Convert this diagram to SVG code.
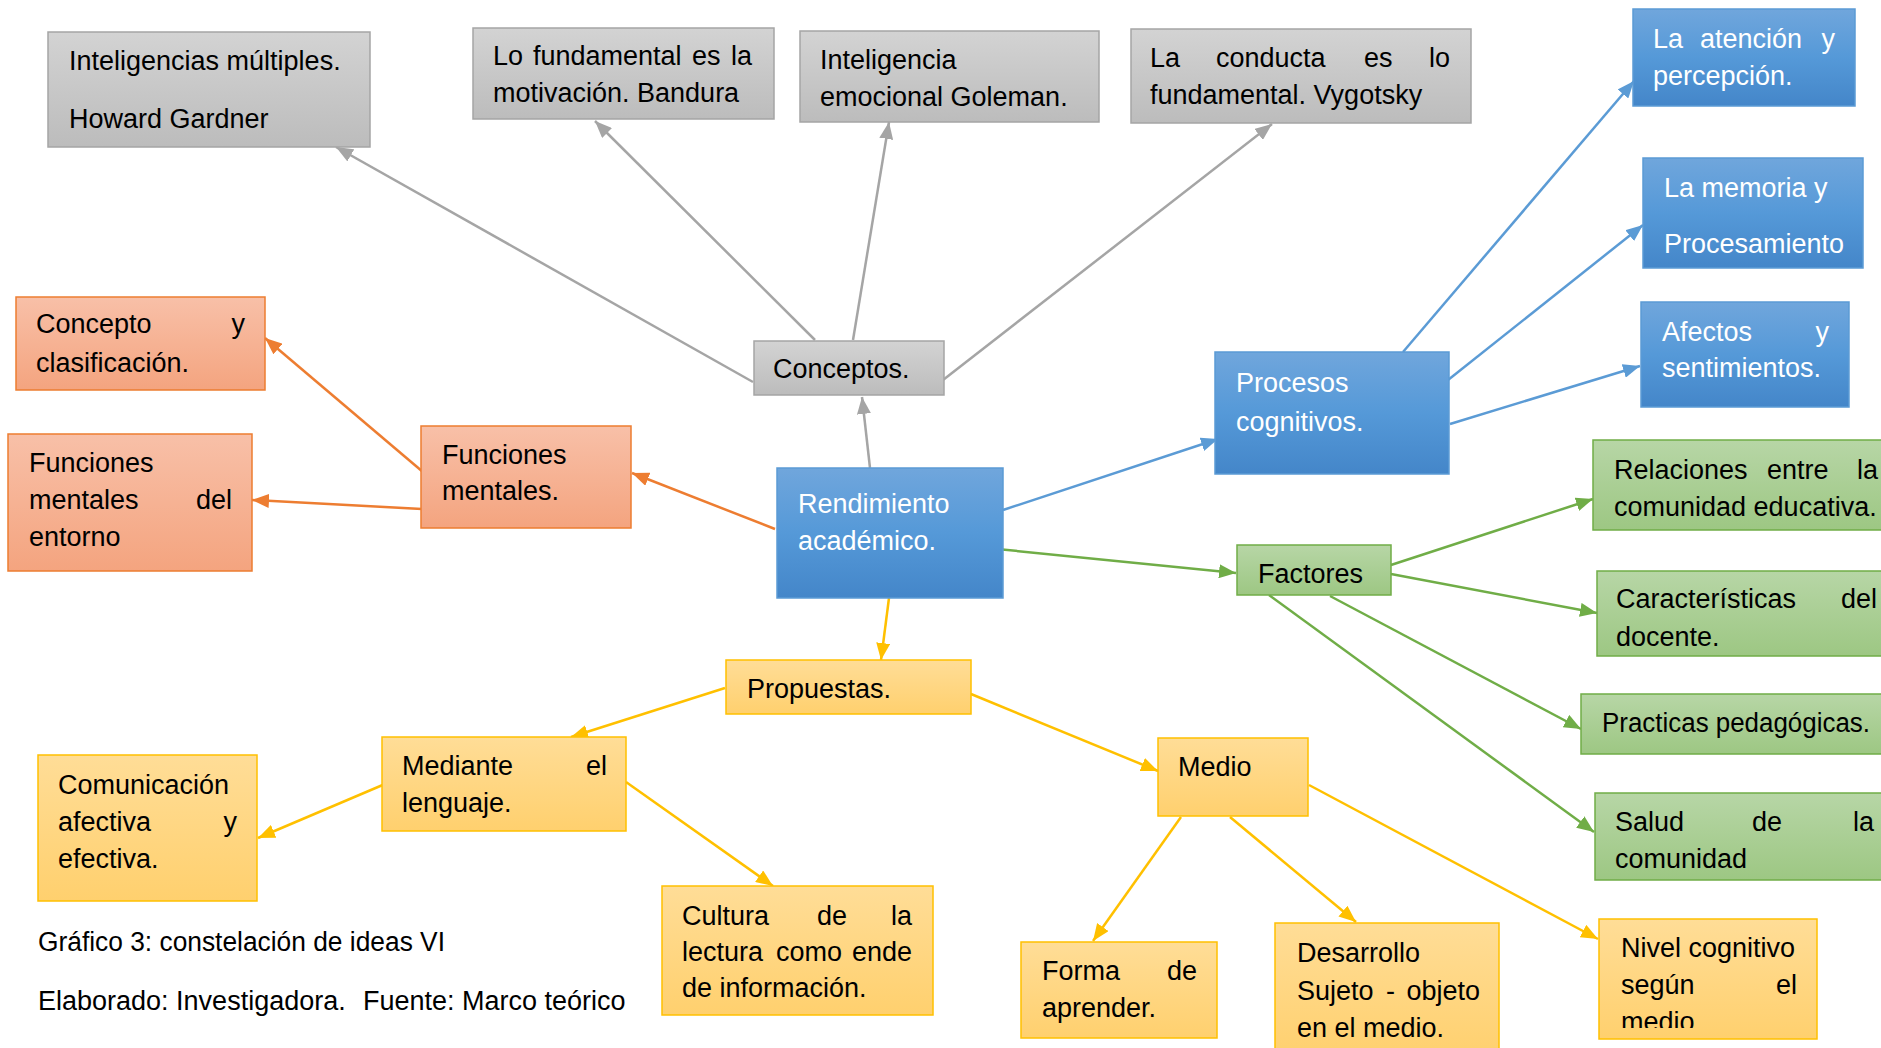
<svg xmlns="http://www.w3.org/2000/svg" width="1881" height="1048" viewBox="0 0 1881 1048">
<style>
text{font-family:"Liberation Sans",Arial,sans-serif;font-size:27px;fill:#000}
.w{fill:#fff}
.e{text-anchor:end}
.gray{fill:url(#gGray);stroke:#a5a5a5;stroke-width:1.5}
.blue{fill:url(#gBlue);stroke:#5b9bd5;stroke-width:1.5}
.orange{fill:url(#gOrange);stroke:#ed7d31;stroke-width:1.5}
.green{fill:url(#gGreen);stroke:#70ad47;stroke-width:1.5}
.yellow{fill:url(#gYellow);stroke:#ffc000;stroke-width:1.5}
.cg{stroke:#a5a5a5;stroke-width:2.5;fill:none;marker-end:url(#aGray)}
.cb{stroke:#5b9bd5;stroke-width:2.5;fill:none;marker-end:url(#aBlue)}
.co{stroke:#ed7d31;stroke-width:2.5;fill:none;marker-end:url(#aOrange)}
.cn{stroke:#70ad47;stroke-width:2.5;fill:none;marker-end:url(#aGreen)}
.cy{stroke:#ffc000;stroke-width:2.5;fill:none;marker-end:url(#aYellow)}
</style>
<defs>
<linearGradient id="gGray" x1="0" y1="0" x2="0" y2="1"><stop offset="0" stop-color="#d3d3d3"/><stop offset="1" stop-color="#bcbcbc"/></linearGradient>
<linearGradient id="gBlue" x1="0" y1="0" x2="0" y2="1"><stop offset="0" stop-color="#70a6dc"/><stop offset="0.5" stop-color="#5599d8"/><stop offset="1" stop-color="#4486c9"/></linearGradient>
<linearGradient id="gOrange" x1="0" y1="0" x2="0" y2="1"><stop offset="0" stop-color="#f8c0a8"/><stop offset="1" stop-color="#f4a47f"/></linearGradient>
<linearGradient id="gGreen" x1="0" y1="0" x2="0" y2="1"><stop offset="0" stop-color="#b7d6a6"/><stop offset="1" stop-color="#9dc783"/></linearGradient>
<linearGradient id="gYellow" x1="0" y1="0" x2="0" y2="1"><stop offset="0" stop-color="#ffdd97"/><stop offset="1" stop-color="#ffd06e"/></linearGradient>
<marker id="aGray" markerUnits="userSpaceOnUse" markerWidth="17" markerHeight="14" refX="17" refY="7" orient="auto"><path d="M0,0 L17,7 L0,14 z" fill="#a5a5a5"/></marker>
<marker id="aBlue" markerUnits="userSpaceOnUse" markerWidth="17" markerHeight="14" refX="17" refY="7" orient="auto"><path d="M0,0 L17,7 L0,14 z" fill="#5b9bd5"/></marker>
<marker id="aOrange" markerUnits="userSpaceOnUse" markerWidth="17" markerHeight="14" refX="17" refY="7" orient="auto"><path d="M0,0 L17,7 L0,14 z" fill="#ed7d31"/></marker>
<marker id="aGreen" markerUnits="userSpaceOnUse" markerWidth="17" markerHeight="14" refX="17" refY="7" orient="auto"><path d="M0,0 L17,7 L0,14 z" fill="#70ad47"/></marker>
<marker id="aYellow" markerUnits="userSpaceOnUse" markerWidth="17" markerHeight="14" refX="17" refY="7" orient="auto"><path d="M0,0 L17,7 L0,14 z" fill="#ffc000"/></marker>
<clipPath id="clipNivel"><rect x="1599" y="919" width="218" height="109"/></clipPath>
</defs>
<rect width="1881" height="1048" fill="#fff"/>

<g id="connectors">
<line class="cg" x1="753" y1="382" x2="336" y2="147"/>
<line class="cg" x1="815" y1="340" x2="595" y2="121"/>
<line class="cg" x1="853" y1="340" x2="889" y2="122"/>
<line class="cg" x1="943" y1="380" x2="1272" y2="124"/>
<line class="cg" x1="870" y1="468" x2="862" y2="397"/>
<line class="cb" x1="1403" y1="352" x2="1634" y2="81"/>
<line class="cb" x1="1448" y1="380" x2="1643" y2="225"/>
<line class="cb" x1="1450" y1="424" x2="1640" y2="366"/>
<line class="cb" x1="1003" y1="510" x2="1218" y2="439"/>
<line class="co" x1="775" y1="529" x2="632" y2="473"/>
<line class="co" x1="423" y1="472" x2="265" y2="338"/>
<line class="co" x1="422" y1="509" x2="252" y2="500"/>
<line class="cn" x1="997" y1="549" x2="1236" y2="573"/>
<line class="cn" x1="1391" y1="565" x2="1593" y2="499"/>
<line class="cn" x1="1391" y1="574" x2="1597" y2="613"/>
<line class="cn" x1="1330" y1="596" x2="1581" y2="729"/>
<line class="cn" x1="1269" y1="595" x2="1594" y2="832"/>
<line class="cy" x1="889" y1="598" x2="881" y2="660"/>
<line class="cy" x1="725" y1="688" x2="571" y2="737"/>
<line class="cy" x1="971" y1="694" x2="1158" y2="771"/>
<line class="cy" x1="385" y1="784" x2="258" y2="838"/>
<line class="cy" x1="626" y1="782" x2="773" y2="886"/>
<line class="cy" x1="1181" y1="817" x2="1093" y2="941"/>
<line class="cy" x1="1230" y1="817" x2="1356" y2="922"/>
<line class="cy" x1="1309" y1="785" x2="1598" y2="939"/>
</g>

<g id="n-gardner">
<rect class="gray" x="48" y="32" width="322" height="115"/>
<text x="69" y="70">Inteligencias múltiples.</text>
<text x="69" y="128">Howard Gardner</text>
</g>
<g id="n-bandura">
<rect class="gray" x="473" y="28" width="301" height="91"/>
<text x="493" y="65">Lo</text><text x="533" y="65">fundamental</text><text x="692" y="65">es</text><text class="e" x="752" y="65">la</text>
<text x="493" y="102">motivación. Bandura</text>
</g>
<g id="n-goleman">
<rect class="gray" x="800" y="31" width="299" height="91"/>
<text x="820" y="69">Inteligencia</text>
<text x="820" y="106">emocional Goleman.</text>
</g>
<g id="n-vygotsky">
<rect class="gray" x="1131" y="29" width="340" height="94"/>
<text x="1150" y="67">La</text><text x="1216" y="67">conducta</text><text x="1364" y="67">es</text><text class="e" x="1450" y="67">lo</text>
<text x="1150" y="104">fundamental. Vygotsky</text>
</g>
<g id="n-conceptos">
<rect class="gray" x="754" y="341" width="190" height="54"/>
<text x="773" y="378">Conceptos.</text>
</g>

<g id="n-atencion">
<rect class="blue" x="1633" y="9" width="222" height="97"/>
<text class="w" x="1653" y="48">La</text><text class="w" x="1700" y="48">atención</text><text class="w e" x="1835" y="48">y</text>
<text class="w" x="1653" y="85">percepción.</text>
</g>
<g id="n-memoria">
<rect class="blue" x="1643" y="158" width="220" height="110"/>
<text class="w" x="1664" y="197">La memoria y</text>
<text class="w" x="1664" y="253">Procesamiento</text>
</g>
<g id="n-afectos">
<rect class="blue" x="1641" y="302" width="208" height="105"/>
<text class="w" x="1662" y="341">Afectos</text><text class="w e" x="1829" y="341">y</text>
<text class="w" x="1662" y="377">sentimientos.</text>
</g>
<g id="n-procesos">
<rect class="blue" x="1215" y="352" width="234" height="122"/>
<text class="w" x="1236" y="392">Procesos</text>
<text class="w" x="1236" y="431">cognitivos.</text>
</g>
<g id="n-rendimiento">
<rect class="blue" x="777" y="468" width="226" height="130"/>
<text class="w" x="798" y="513">Rendimiento</text>
<text class="w" x="798" y="550">académico.</text>
</g>

<g id="n-concepto">
<rect class="orange" x="16" y="297" width="249" height="93"/>
<text x="36" y="333">Concepto</text><text class="e" x="245" y="333">y</text>
<text x="36" y="372">clasificación.</text>
</g>
<g id="n-funciones">
<rect class="orange" x="421" y="426" width="210" height="102"/>
<text x="442" y="464">Funciones</text>
<text x="442" y="500">mentales.</text>
</g>
<g id="n-entorno">
<rect class="orange" x="8" y="434" width="244" height="137"/>
<text x="29" y="472">Funciones</text>
<text x="29" y="509">mentales</text><text class="e" x="232" y="509">del</text>
<text x="29" y="546">entorno</text>
</g>

<g id="n-factores">
<rect class="green" x="1237" y="545" width="154" height="50"/>
<text x="1258" y="583">Factores</text>
</g>
<g id="n-relaciones">
<rect class="green" x="1593" y="440" width="300" height="90"/>
<text x="1614" y="479">Relaciones</text><text x="1767" y="479">entre</text><text x="1857" y="479">la</text>
<text x="1614" y="516">comunidad educativa.</text>
</g>
<g id="n-caracteristicas">
<rect class="green" x="1597" y="571" width="300" height="85"/>
<text x="1616" y="608">Características</text><text x="1841" y="608">del</text>
<text x="1616" y="646">docente.</text>
</g>
<g id="n-practicas">
<rect class="green" x="1581" y="694" width="310" height="60"/>
<text x="1602" y="732" textLength="268" lengthAdjust="spacingAndGlyphs">Practicas pedagógicas.</text>
</g>
<g id="n-salud">
<rect class="green" x="1595" y="793" width="300" height="87"/>
<text x="1615" y="831">Salud</text><text x="1752" y="831">de</text><text x="1853" y="831">la</text>
<text x="1615" y="868">comunidad</text>
</g>

<g id="n-propuestas">
<rect class="yellow" x="726" y="660" width="245" height="54"/>
<text x="747" y="698">Propuestas.</text>
</g>
<g id="n-mediante">
<rect class="yellow" x="382" y="737" width="244" height="94"/>
<text x="402" y="775">Mediante</text><text class="e" x="607" y="775">el</text>
<text x="402" y="812">lenguaje.</text>
</g>
<g id="n-comunicacion">
<rect class="yellow" x="38" y="755" width="219" height="146"/>
<text x="58" y="794">Comunicación</text>
<text x="58" y="831">afectiva</text><text class="e" x="237" y="831">y</text>
<text x="58" y="868">efectiva.</text>
</g>
<g id="n-cultura">
<rect class="yellow" x="662" y="886" width="271" height="129"/>
<text x="682" y="925">Cultura</text><text x="817" y="925">de</text><text class="e" x="912" y="925">la</text>
<text x="682" y="961">lectura</text><text x="776" y="961">como</text><text class="e" x="912" y="961">ende</text>
<text x="682" y="997">de información.</text>
</g>
<g id="n-medio">
<rect class="yellow" x="1158" y="738" width="150" height="78"/>
<text x="1178" y="776">Medio</text>
</g>
<g id="n-forma">
<rect class="yellow" x="1021" y="942" width="196" height="96"/>
<text x="1042" y="980">Forma</text><text class="e" x="1197" y="980">de</text>
<text x="1042" y="1017">aprender.</text>
</g>
<g id="n-desarrollo">
<rect class="yellow" x="1275" y="923" width="224" height="135"/>
<text x="1297" y="962">Desarrollo</text>
<text x="1297" y="1000">Sujeto</text><text x="1386" y="1000">-</text><text class="e" x="1480" y="1000">objeto</text>
<text x="1297" y="1037">en el medio.</text>
</g>
<g id="n-nivel">
<rect class="yellow" x="1599" y="919" width="218" height="120"/>
<g clip-path="url(#clipNivel)">
<text x="1621" y="957">Nivel cognitivo</text>
<text x="1621" y="994">según</text><text class="e" x="1797" y="994">el</text>
<text x="1621" y="1031">medio</text>
</g>
</g>

<g id="caption">
<text x="38" y="951" textLength="407" lengthAdjust="spacingAndGlyphs">Gráfico 3: constelación de ideas VI</text>
<text x="38" y="1010">Elaborado: Investigadora.</text>
<text x="363" y="1010">Fuente: Marco teórico</text>
</g>
</svg>
